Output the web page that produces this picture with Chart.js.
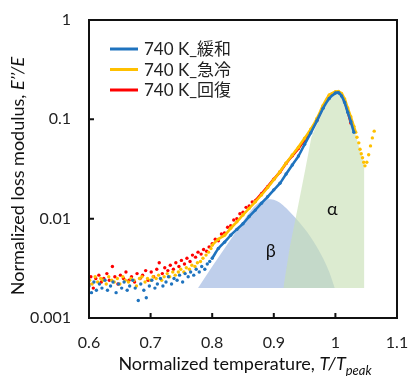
<!DOCTYPE html>
<html>
<head>
<meta charset="utf-8">
<script src="https://cdn.jsdelivr.net/npm/chart.js@4.4.0/dist/chart.umd.min.js"></script>
<style>
  body { margin: 0; background: #fff; }
</style>
</head>
<body>
<canvas id="myChart" width="410" height="376"></canvas>
<script>
const seriesLabels = ['740 K_緩和', '740 K_急冷', '740 K_回復'];
const xTicks = [0.6, 0.7, 0.8, 0.9, 1.0, 1.1];
const yTicks = [0.001, 0.01, 0.1, 1];

// 740 K_緩和 (blue)
const blueX = [0.600,0.604,0.608,0.612,0.617,0.621,0.626,0.630,0.635,0.639,
  0.644,0.648,0.653,0.657,0.662,0.666,0.671,0.675,0.680,0.684,
  0.689,0.693,0.698,0.702,0.707,0.711,0.716,0.720,0.725,0.729,
  0.734,0.738,0.743,0.747,0.752,0.756,0.761,0.765,0.770,0.774,
  0.779,0.783,0.788,0.792,0.796,
  0.80,0.81,0.82,0.83,0.84,0.85,0.86,0.87,0.88,0.89,0.90,0.91,0.92,0.93,0.94,0.95,0.96,0.97,0.98,0.99,1.00,
  1.005,1.01,1.015,1.02,1.025,1.03];
const blueY = [0.0021,0.0018,0.0023,0.0019,0.0022,0.0020,0.0024,0.0019,0.0021,0.0023,
  0.0018,0.0022,0.0020,0.0023,0.0019,0.0021,0.0024,0.0020,0.0015,0.0022,
  0.0019,0.0016,0.0021,0.0024,0.0020,0.0022,0.0025,0.0021,0.0023,0.0026,
  0.0022,0.0025,0.0024,0.0027,0.0023,0.0028,0.0026,0.0029,0.0027,0.0031,
  0.0029,0.0033,0.0031,0.0035,0.0037,
  0.0040,0.0050,0.0058,0.0068,0.0078,0.0089,0.0105,0.0122,0.0143,0.0166,0.0195,0.0227,0.0282,0.0347,0.0427,0.056,0.073,0.0966,0.129,0.162,0.184,
  0.185,0.172,0.148,0.118,0.095,0.074];

// 740 K_急冷 (yellow)
const yellowX = [0.601,0.605,0.610,0.614,0.619,0.623,0.628,0.632,0.637,0.641,
  0.646,0.650,0.655,0.659,0.664,0.668,0.673,0.677,0.682,0.686,
  0.691,0.695,0.700,0.704,0.709,0.713,0.718,0.722,0.727,0.731,
  0.736,0.740,0.745,0.749,0.754,0.758,0.763,0.767,0.772,0.776,
  0.781,0.785,0.790,0.794,0.798,
  0.80,0.81,0.82,0.83,0.84,0.85,0.86,0.87,0.88,0.89,0.90,0.91,0.92,0.93,0.94,0.95,0.96,0.97,0.98,0.99,1.00,
  1.005,1.01,1.015,1.02,1.025,1.03,1.033,1.035,1.038,1.040,1.042,1.044,1.046,1.048,
  1.051,1.054,1.057,1.060,1.063];
const yellowY = [0.0024,0.0022,0.0026,0.0023,0.0025,0.0024,0.0022,0.0026,0.0024,0.0023,
  0.0025,0.0022,0.0026,0.0024,0.0023,0.0025,0.0024,0.0021,0.0025,0.0026,
  0.0023,0.0025,0.0024,0.0026,0.0025,0.0027,0.0024,0.0026,0.0028,0.0026,
  0.0029,0.0027,0.0029,0.0031,0.0029,0.0032,0.0031,0.0034,0.0033,0.0036,
  0.0037,0.0040,0.0043,0.0046,0.0050,
  0.0054,0.0062,0.0068,0.0080,0.0093,0.0109,0.0127,0.0148,0.0173,0.0206,0.0247,0.0297,0.0363,0.0437,0.0525,0.0646,0.0794,0.102,0.138,0.176,0.190,
  0.191,0.182,0.160,0.130,0.106,0.085,0.074,0.066,0.058,0.050,0.045,0.041,0.037,0.034,
  0.037,0.044,0.054,0.065,0.076];

// 740 K_回復 (red)
const redX = [0.600,0.603,0.607,0.611,0.616,0.620,0.624,0.629,0.633,0.638,
  0.642,0.647,0.651,0.656,0.660,0.665,0.669,0.674,0.678,0.683,
  0.687,0.692,0.696,0.701,0.705,0.710,0.714,0.719,0.723,0.728,
  0.732,0.737,0.741,0.746,0.750,0.755,0.759,0.764,0.768,0.773,
  0.777,0.782,0.786,0.791,0.795,
  0.800,0.805,0.810,0.815,0.820,0.825,0.830,0.835,0.840,0.845,0.850,0.855,0.860,0.865,
  0.87,0.88,0.89,0.90,0.91,0.92,0.93,0.94,0.95,0.96,0.97,0.98,0.99,1.00,1.005,1.01,1.015,1.02,1.025];
const redY = [0.0022,0.0026,0.0020,0.0025,0.0027,0.0023,0.0025,0.0028,0.0024,0.0033,
  0.0026,0.0022,0.0027,0.0025,0.0029,0.0024,0.0026,0.0023,0.0028,0.0025,
  0.0027,0.0030,0.0024,0.0029,0.0026,0.0031,0.0036,0.0028,0.0032,0.0030,
  0.0034,0.0031,0.0036,0.0033,0.0038,0.0035,0.0040,0.0037,0.0043,0.0041,
  0.0046,0.0044,0.0049,0.0047,0.0052,
  0.0056,0.0062,0.0060,0.0070,0.0072,0.0082,0.0085,0.0097,0.0100,0.0112,0.0116,0.0130,0.0134,0.0147,
  0.0152,0.0178,0.021,0.025,0.0295,0.036,0.043,0.051,0.062,0.076,0.098,0.133,0.172,0.187,0.186,0.176,0.152,0.120,0.092];

// shaded peak components
const betaX = [0.777,0.80,0.82,0.84,0.86,0.87,0.88,0.89,0.90,0.91,0.92,0.93,0.94,0.95,0.96,0.97,0.98,0.99,0.999];
const betaY = [0.002,0.0033,0.0050,0.0076,0.0115,0.0136,0.0150,0.0157,0.0155,0.0145,0.0128,0.0110,0.0094,0.0079,0.0065,0.0052,0.0040,0.0029,0.002];
const alphaX = [0.9155,0.926,0.937,0.951,0.961,0.97,0.98,0.99,1.00,1.005,1.01,1.02,1.03,1.04,1.047,1.047];
const alphaY = [0.002,0.0052,0.0113,0.031,0.066,0.090,0.124,0.158,0.180,0.183,0.174,0.122,0.082,0.048,0.034,0.002];
const baseLevel = 0.002;

function pts(xs, ys) {
  return xs.map((x, i) => ({x: x, y: ys[i]}))
}

const FONT = "Lato, 'Noto Sans CJK JP', sans-serif";

function lineFrom(start, end, color) {
  return ctx => {
    const x0 = ctx.p0.parsed.x
    return (x0 >= start && x0 < end) ? color : 'rgba(0,0,0,0)'
  }
}

function series(label, xs, ys, color, lineStart, lineEnd, order) {
  return {
    label: label,
    data: pts(xs, ys),
    borderColor: color,
    backgroundColor: color,
    borderWidth: 2.6,
    pointRadius: 1.7,
    pointBorderWidth: 0,
    pointBackgroundColor: color,
    fill: false,
    tension: 0.2,
    order: order,
    segment: { borderColor: lineFrom(lineStart, lineEnd, color) }
  }
}

const overlay = {
  id: 'overlay',
  afterDraw(chart) {
    const {ctx, chartArea: a, scales: {x, y}} = chart;
    ctx.save();

    // frame
    ctx.strokeStyle = '#111';
    ctx.lineWidth = 2;
    ctx.strokeRect(a.left, a.top, a.right - a.left, a.bottom - a.top);

    // inward tick marks
    ctx.beginPath();
    xTicks.forEach(v => {
      const px = x.getPixelForValue(v);
      ctx.moveTo(px, a.bottom); ctx.lineTo(px, a.bottom - 5);
    });
    yTicks.forEach(v => {
      const py = y.getPixelForValue(v);
      ctx.moveTo(a.left, py); ctx.lineTo(a.left + 5, py);
    });
    ctx.stroke();

    // peak labels
    ctx.fillStyle = '#111';
    ctx.font = '18px ' + FONT;
    ctx.textAlign = 'center';
    ctx.textBaseline = 'middle';
    ctx.fillText('β', x.getPixelForValue(0.895), y.getPixelForValue(0.0047));
    ctx.fillText('α', x.getPixelForValue(0.995), y.getPixelForValue(0.0124));

    // legend
    const colors = ['#1F73BE', '#FFC000', '#FF0000'];
    ctx.font = '17px ' + FONT;
    ctx.textAlign = 'left';
    seriesLabels.forEach((lab, i) => {
      const ly = a.top + 29 + i * 20.5;
      ctx.strokeStyle = colors[i];
      ctx.lineWidth = 3;
      ctx.beginPath();
      ctx.moveTo(a.left + 21, ly); ctx.lineTo(a.left + 49, ly);
      ctx.stroke();
      ctx.fillStyle = '#222';
      ctx.fillText(lab, a.left + 55, ly + 1);
    });

    // y axis title
    ctx.save();
    ctx.translate(18, 176);
    ctx.rotate(-Math.PI / 2);
    const yt1 = 'Normalized loss modulus, ';
    const yt2 = 'E\u2019\u2019/E';
    ctx.font = '18px ' + FONT;
    const w1 = ctx.measureText(yt1).width;
    ctx.font = 'italic 18px ' + FONT;
    const w2 = ctx.measureText(yt2).width;
    let sx = -(w1 + w2) / 2;
    ctx.fillStyle = '#111';
    ctx.textBaseline = 'middle';
    ctx.font = '18px ' + FONT;
    ctx.fillText(yt1, sx, 0);
    ctx.font = 'italic 18px ' + FONT;
    ctx.fillText(yt2, sx + w1, 0);
    ctx.restore();

    // x axis title
    const xt1 = 'Normalized temperature, ';
    const xt2 = 'T/T';
    const xt3 = 'peak';
    ctx.font = '18px ' + FONT;
    const v1 = ctx.measureText(xt1).width;
    ctx.font = 'italic 18px ' + FONT;
    const v2 = ctx.measureText(xt2).width;
    ctx.font = 'italic 13px ' + FONT;
    const v3 = ctx.measureText(xt3).width;
    let tx = 245 - (v1 + v2 + v3) / 2;
    ctx.textBaseline = 'alphabetic';
    ctx.fillStyle = '#111';
    ctx.font = '18px ' + FONT;
    ctx.fillText(xt1, tx, 370);
    ctx.font = 'italic 18px ' + FONT;
    ctx.fillText(xt2, tx + v1, 370);
    ctx.font = 'italic 13px ' + FONT;
    ctx.fillText(xt3, tx + v1 + v2, 375);

    ctx.restore();
  }
};

new Chart(document.getElementById('myChart'), {
  type: 'line',
  data: {
    datasets: [
      {
        label: 'beta',
        data: pts(betaX, betaY),
        borderWidth: 0,
        pointRadius: 0,
        backgroundColor: 'rgba(180,199,231,0.85)',
        fill: {value: baseLevel},
        cubicInterpolationMode: 'monotone',
        order: 6
      },
      {
        label: 'alpha',
        data: pts(alphaX, alphaY),
        borderWidth: 0,
        pointRadius: 0,
        backgroundColor: 'rgba(200,224,181,0.63)',
        fill: {value: baseLevel},
        tension: 0,
        order: 5
      },
      series(seriesLabels[2], redX, redY, '#FF0000', 0.868, 2, 3),
      series(seriesLabels[1], yellowX, yellowY, '#FFC000', 0.80, 1.031, 2),
      series(seriesLabels[0], blueX, blueY, '#1F73BE', 0.80, 2, 1)
    ]
  },
  options: {
    responsive: false,
    animation: false,
    layout: { padding: { top: 20, right: 13, left: 0, bottom: 0 } },
    plugins: { legend: { display: false }, tooltip: { enabled: false } },
    scales: {
      x: {
        type: 'linear',
        min: 0.6,
        max: 1.1,
        grid: { display: false, drawTicks: false },
        border: { display: false },
        afterBuildTicks: s => { s.ticks = xTicks.map(v => ({value: v})) },
        afterFit: s => { s.height = 58; s.paddingLeft = 0; s.paddingRight = 0 },
        ticks: {
          padding: 15,
          color: '#222',
          maxRotation: 0,
          autoSkip: false,
          font: { family: FONT, size: 16 },
          callback: v => String(+v.toFixed(1))
        }
      },
      y: {
        type: 'logarithmic',
        min: 0.001,
        max: 1,
        grid: { display: false, drawTicks: false },
        border: { display: false },
        afterBuildTicks: s => { s.ticks = yTicks.map(v => ({value: v})) },
        afterFit: s => { s.width = 89; s.paddingTop = 0; s.paddingBottom = 0 },
        ticks: {
          padding: 18,
          color: '#222',
          autoSkip: false,
          font: { family: FONT, size: 16 },
          callback: v => String(v)
        }
      }
    }
  },
  plugins: [overlay]
});
</script>
</body>
</html>
